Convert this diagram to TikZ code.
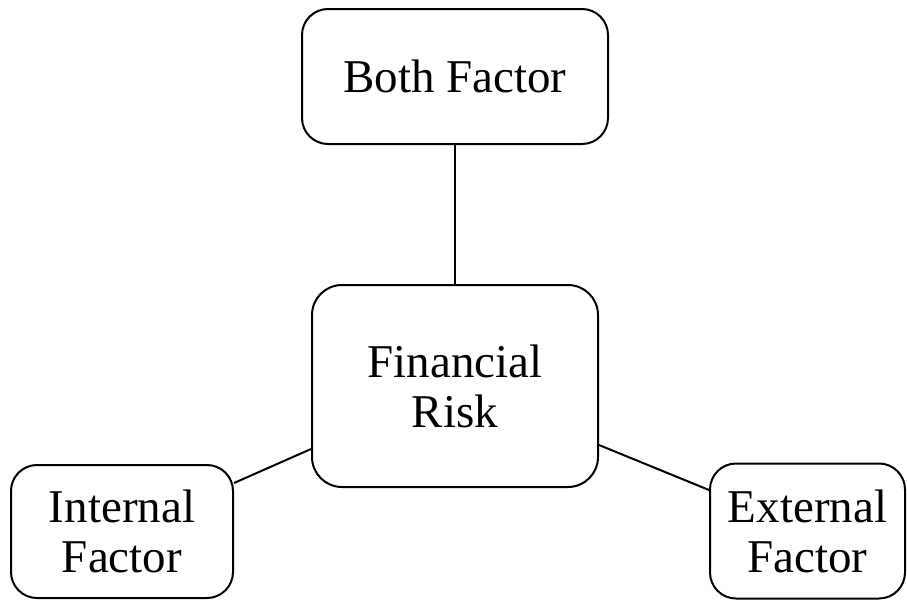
\documentclass[tikz,border=0pt]{standalone}
\usepackage{fontspec}
\setmainfont{Liberation Serif}
\begin{document}
\begin{tikzpicture}[x=1pt,y=-1pt,
  box/.style={draw,line width=2pt,rounded corners=26pt,align=center,inner sep=0pt,
    font=\fontsize{47}{50}\selectfont},
  link/.style={line width=2pt}]
\useasboundingbox (0,0) rectangle (907,600);
\node[box,minimum width=306pt,minimum height=135pt] (both) at (455,76.5) {Both Factor};
\node[box,minimum width=286pt,minimum height=202pt,rounded corners=30pt] (fin) at (455,386) {Financial\\Risk};
\node[box,minimum width=222pt,minimum height=133pt] (int) at (122,531.5) {Internal\\Factor};
\node[box,minimum width=195pt,minimum height=135pt] (ext) at (807.5,531) {External\\Factor};
\draw[link] (both.south) -- (fin.north);
\draw[link] ([yshift=48.5pt]int.east) -- ([yshift=-63pt]fin.west);
\draw[link] ([yshift=-59pt]fin.east) -- ([yshift=41pt]ext.west);
\end{tikzpicture}
\end{document}
